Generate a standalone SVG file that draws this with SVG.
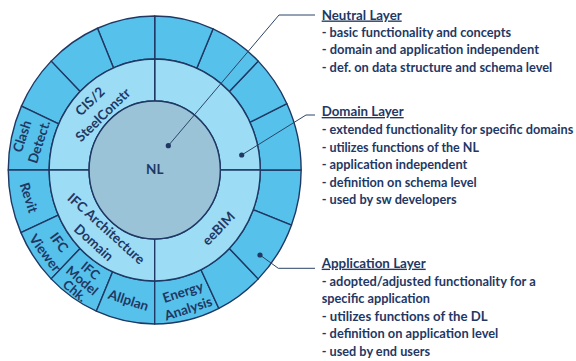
<svg xmlns="http://www.w3.org/2000/svg" width="576" height="361" viewBox="0 0 576 361">
<style>
.sec{stroke:#1F3864;stroke-width:1.4;stroke-linejoin:round}
.o{fill:#56C1EA}
.m{fill:#9CDCF5}
.c{fill:#9BC3D8}
.lbl{font-family:Lato,"Liberation Sans",sans-serif;font-weight:bold;font-size:13.5px;fill:#1F3864;text-anchor:middle;dominant-baseline:central}
.sm{font-size:13px}
.t{font-family:Lato,"Liberation Sans",sans-serif;font-weight:bold;font-size:12.5px;fill:#1F3864}
.hd{font-size:13.5px;text-decoration:underline}
.lead{stroke:#2B4468;stroke-width:1;fill:none}
.dot{fill:#1F3864}
</style>
<rect width="576" height="361" fill="#FFFFFF"/>

<!-- outer ring (application layer) -->
<g id="app-1"><path class="sec o" d="M291.43,225.19 A146.45,154 0 0 0 301.15,170 L260.26,170 A105.56,111 0 0 1 253.25,209.78Z"/></g>
<g id="app-2"><path class="sec o" d="M301.15,170 A146.45,154 0 0 0 286.89,103.7 L249.98,122.21 A105.56,111 0 0 1 260.26,170Z"/></g>
<g id="app-3"><path class="sec o" d="M286.89,103.7 A146.45,154 0 0 0 258.25,61.11 L229.34,91.51 A105.56,111 0 0 1 249.98,122.21Z"/></g>
<g id="app-4"><path class="sec o" d="M258.25,61.11 A146.45,154 0 0 0 213.09,28.77 L196.79,68.2 A105.56,111 0 0 1 229.34,91.51Z"/></g>
<g id="app-5"><path class="sec o" d="M213.09,28.77 A146.45,154 0 0 0 154.7,16 L154.7,59 A105.56,111 0 0 1 196.79,68.2Z"/></g>
<g id="app-6"><path class="sec o" d="M154.7,16 A146.45,154 0 0 0 97.48,28.24 L113.45,67.82 A105.56,111 0 0 1 154.7,59Z"/></g>
<g id="app-7"><path class="sec o" d="M97.48,28.24 A146.45,154 0 0 0 51.15,61.11 L80.06,91.51 A105.56,111 0 0 1 113.45,67.82Z"/></g>
<g id="app-8"><path class="sec o" d="M51.15,61.11 A146.45,154 0 0 0 21.43,106.14 L58.64,123.97 A105.56,111 0 0 1 80.06,91.51Z"/></g>
<g id="clash-detect">
<path class="sec o" d="M21.43,106.14 A146.45,154 0 0 0 8.25,170 L49.14,170 A105.56,111 0 0 1 58.64,123.97Z"/>
<text class="lbl" transform="translate(30.3,139) rotate(-72)"><tspan x="0" y="-8.9">Clash</tspan><tspan x="0" y="8.9">Detect.</tspan></text>
</g>
<g id="revit">
<path class="sec o" d="M8.25,170 A146.45,154 0 0 0 20.91,232.63 L58.27,215.14 A105.56,111 0 0 1 49.14,170Z"/>
<text class="lbl" transform="translate(29,197.5) rotate(72)">Revit</text>
</g>
<g id="ifc-viewer">
<path class="sec o" d="M20.91,232.63 A146.45,154 0 0 0 51.15,278.89 L80.06,248.49 A105.56,111 0 0 1 58.27,215.14Z"/>
<text class="lbl" transform="translate(52.3,247.5) rotate(53)"><tspan x="0" y="-8.8">IFC</tspan><tspan x="0" y="8.8">Viewer</tspan></text>
</g>
<g id="ifc-model-chk">
<path class="sec o" d="M51.15,278.89 A146.45,154 0 0 0 96.31,311.23 L112.61,271.8 A105.56,111 0 0 1 80.06,248.49Z"/>
<text class="lbl sm" transform="translate(82.3,280.2) rotate(40)"><tspan x="0" y="-13">IFC</tspan><tspan x="0" y="0">Model</tspan><tspan x="1" y="12.5">Chk.</tspan></text>
</g>
<g id="allplan">
<path class="sec o" d="M96.31,311.23 A146.45,154 0 0 0 154.7,324 L154.7,281 A105.56,111 0 0 1 112.61,271.8Z"/>
<text class="lbl" transform="translate(128.5,300) rotate(18)">Allplan</text>
</g>
<g id="energy-analysis">
<path class="sec o" d="M154.7,324 A146.45,154 0 0 0 218.9,308.42 L200.98,269.77 A105.56,111 0 0 1 154.7,281Z"/>
<text class="lbl" transform="translate(185.5,300) rotate(-18)"><tspan x="0" y="-8.7">Energy</tspan><tspan x="0" y="8.7">Analysis</tspan></text>
</g>
<g id="app-15"><path class="sec o" d="M218.9,308.42 A146.45,154 0 0 0 258.25,278.89 L229.34,248.49 A105.56,111 0 0 1 200.98,269.77Z"/></g>
<g id="app-16"><path class="sec o" d="M258.25,278.89 A146.45,154 0 0 0 291.43,225.19 L253.25,209.78 A105.56,111 0 0 1 229.34,248.49Z"/></g>

<!-- middle ring (domain layer) -->
<g id="domain-1"><path class="sec m" d="M260.26,170 A105.56,111 0 0 0 154.7,59 L154.7,101 A65.62,69 0 0 1 220.32,170Z"/></g>
<g id="cis2-steelconstr">
<path class="sec m" d="M154.7,59 A105.56,111 0 0 0 49.14,170 L89.08,170 A65.62,69 0 0 1 154.7,101Z"/>
<text class="lbl" transform="translate(96.2,107.9) rotate(-44)"><tspan x="0" y="-9.4">CIS/2</tspan><tspan x="0" y="9.4">SteelConstr</tspan></text>
</g>
<g id="ifc-architecture-domain">
<path class="sec m" d="M49.14,170 A105.56,111 0 0 0 154.7,281 L154.7,239 A65.62,69 0 0 1 89.08,170Z"/>
<text class="lbl" transform="translate(100.2,235.4) rotate(42)"><tspan x="0" y="-9.4">IFC Architecture</tspan><tspan x="0" y="9.4">Domain</tspan></text>
</g>
<g id="eebim">
<path class="sec m" d="M154.7,281 A105.56,111 0 0 0 260.26,170 L220.32,170 A65.62,69 0 0 1 154.7,239Z"/>
<text class="lbl" transform="translate(218.3,228.3) rotate(-46)">eeBIM</text>
</g>

<!-- core (neutral layer) -->
<g id="nl">
<ellipse class="sec c" cx="154.7" cy="170" rx="65.62" ry="69"/>
<text class="lbl" x="154.7" y="169">NL</text>
</g>

<!-- connectors -->
<g id="connectors">
<polyline class="lead" points="168.3,145.7 279,15 315,15"/>
<polyline class="lead" points="241.7,155 306,115 315,115"/>
<polyline class="lead" points="260,255 278.3,268.3 315,268.3"/>
<circle class="dot" cx="168.3" cy="145.7" r="2.6"/>
<circle class="dot" cx="241.7" cy="155" r="2.6"/>
<circle class="dot" cx="260" cy="255" r="2.6"/>
</g>

<!-- legend texts -->
<g id="neutral-layer-text">
<text class="t hd" x="321.7" y="19.5" textLength="80" lengthAdjust="spacingAndGlyphs">Neutral Layer</text>
<text class="t" x="321.7" y="37" textLength="189.3" lengthAdjust="spacingAndGlyphs">- basic functionality and concepts</text>
<text class="t" x="321.7" y="54.3" textLength="217.3" lengthAdjust="spacingAndGlyphs">- domain and application independent</text>
<text class="t" x="321.7" y="71.7" textLength="230.6" lengthAdjust="spacingAndGlyphs">- def. on data structure and schema level</text>
</g>
<g id="domain-layer-text">
<text class="t hd" x="321.7" y="116" textLength="82" lengthAdjust="spacingAndGlyphs">Domain Layer</text>
<text class="t" x="321.7" y="134" textLength="251.6" lengthAdjust="spacingAndGlyphs">- extended functionality for specific domains</text>
<text class="t" x="321.7" y="151.5" textLength="157.3" lengthAdjust="spacingAndGlyphs">- utilizes functions of the NL</text>
<text class="t" x="321.7" y="169" textLength="145.6" lengthAdjust="spacingAndGlyphs">- application independent</text>
<text class="t" x="321.7" y="186.5" textLength="155" lengthAdjust="spacingAndGlyphs">- definition on schema level</text>
<text class="t" x="321.7" y="203.5" textLength="135" lengthAdjust="spacingAndGlyphs">- used by sw developers</text>
</g>
<g id="application-layer-text">
<text class="t hd" x="321.7" y="267.7" textLength="104" lengthAdjust="spacingAndGlyphs">Application Layer</text>
<text class="t" x="321.7" y="285.5" textLength="214" lengthAdjust="spacingAndGlyphs">- adopted/adjusted functionality for a</text>
<text class="t" x="321.7" y="303" textLength="108.3" lengthAdjust="spacingAndGlyphs">specific application</text>
<text class="t" x="321.7" y="320.8" textLength="166" lengthAdjust="spacingAndGlyphs">- utilizes functions of the DL</text>
<text class="t" x="321.7" y="338.3" textLength="176.6" lengthAdjust="spacingAndGlyphs">- definition on application level</text>
<text class="t" x="321.7" y="356" textLength="108.3" lengthAdjust="spacingAndGlyphs">- used by end users</text>
</g>
</svg>
